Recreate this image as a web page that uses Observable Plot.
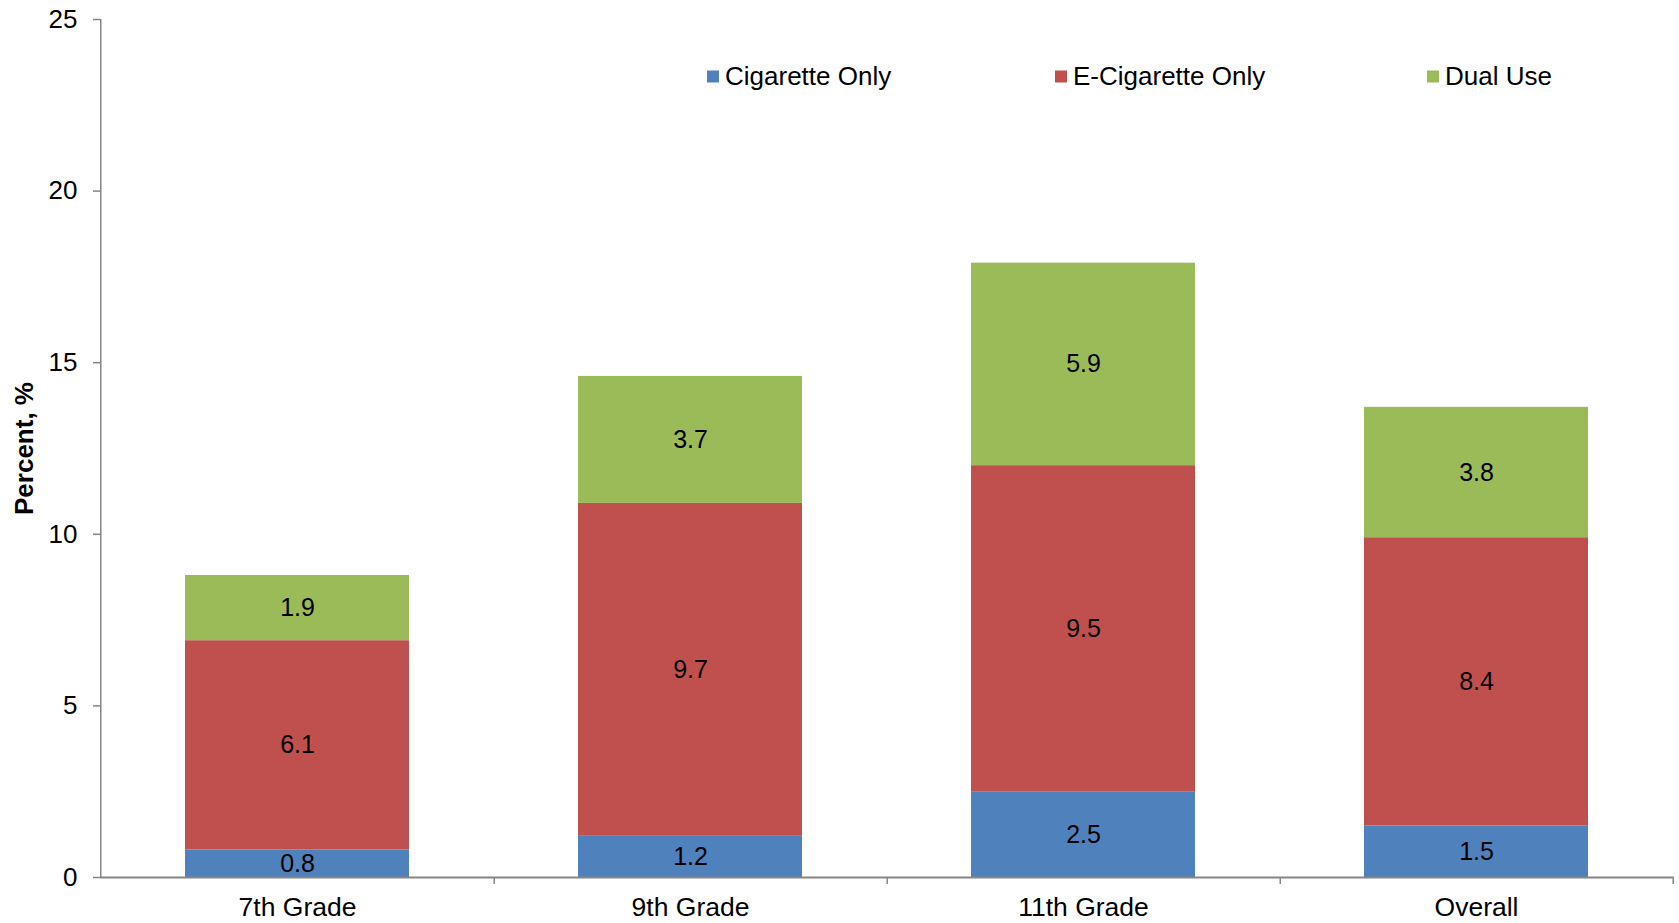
<!DOCTYPE html>
<html>
<head>
<meta charset="utf-8">
<script src="https://cdn.jsdelivr.net/npm/d3@7"></script>
<script src="https://cdn.jsdelivr.net/npm/@observablehq/plot@0.6"></script>
<style>
  html, body { margin: 0; padding: 0; background: #fff; }
  #chart { position: relative; width: 1679px; height: 923px; font-family: "Liberation Sans", Arial, sans-serif; }
  #chart svg { display: block; }
  g[aria-label="y-axis label"] text { font-weight: bold; }
  .legend-item { position: absolute; display: flex; align-items: center; font-size: 26px; color: #000; white-space: nowrap; transform: translateY(-50%); }
  .legend-swatch { width: 12px; height: 12px; margin-right: 6px; }
</style>
</head>
<body>
<div id="chart"></div>
<script>
// ---- data ----
const grades = ["7th Grade", "9th Grade", "11th Grade", "Overall"];
const seriesNames = ["Cigarette Only", "E-Cigarette Only", "Dual Use"];
const seriesColors = ["#4F81BD", "#C0504D", "#9BBB59"];
const cigaretteOnly = [0.8, 1.2, 2.5, 1.5];
const eCigaretteOnly = [6.1, 9.7, 9.5, 8.4];
const dualUse = [1.9, 3.7, 5.9, 3.8];
const yTicks = [0, 5, 10, 15, 20, 25];

const seriesValues = [cigaretteOnly, eCigaretteOnly, dualUse];
const rows = [];
grades.forEach((g, i) => {
  seriesNames.forEach((s, j) => rows.push({grade: g, series: s, value: seriesValues[j][i]}));
});

// ---- layout ----
const W = 1679, H = 923;
const mL = 100, mR = 5, mT = 19, mB = 46;
const step = (W - mL - mR) / grades.length;
const axisGray = "#868686";
const font = "'Liberation Sans', Arial, sans-serif";

const plot = Plot.plot({
  width: W, height: H,
  marginLeft: mL, marginRight: mR, marginTop: mT, marginBottom: mB,
  style: {fontFamily: font, fontSize: "26px", color: "#000", background: "#fff"},
  x: {domain: grades, paddingInner: 0.43, paddingOuter: 0.215, label: null},
  y: {domain: [0, 25], label: null},
  color: {domain: seriesNames, range: seriesColors},
  marks: [
    Plot.barY(rows, Plot.stackY({x: "grade", y: "value", z: "series", fill: "series", order: null})),
    Plot.text(rows, Plot.stackY({x: "grade", y: "value", z: "series", order: null,
      text: d => d.value.toFixed(1), fontSize: 25, fill: "#000"})),
    // y axis
    Plot.axisY({ticks: yTicks, tickSize: 7, tickPadding: 16, stroke: axisGray, strokeWidth: 1.5,
      fontSize: 26, fill: "#000", label: "Percent, %", labelArrow: "none", labelAnchor: "center", labelOffset: 86}),
    // x axis: tick marks at band boundaries
    Plot.axisX({tickSize: 7, dx: step / 2, stroke: axisGray, strokeWidth: 1.5, tickFormat: () => "", label: null}),
    // x axis labels
    Plot.axisX({tickSize: 0, tickPadding: 20, fontSize: 26.5, fill: "#000", label: null}),
    // axis lines
    Plot.ruleX([grades[0]], {x: d => d, dx: -step / 2, y1: 0, y2: 25, stroke: axisGray, strokeWidth: 1.5}),
    Plot.ruleY([0], {stroke: axisGray, strokeWidth: 2})
  ]
});

const chart = document.getElementById("chart");
chart.appendChild(plot);

// legend overlay
const legendLeft = [707, 1055, 1427];
const legendTop = 76;
seriesNames.forEach((s, i) => {
  const item = document.createElement("div");
  item.className = "legend-item";
  item.style.left = legendLeft[i] + "px";
  item.style.top = legendTop + "px";
  const sw = document.createElement("span");
  sw.className = "legend-swatch";
  sw.style.background = seriesColors[i];
  const t = document.createElement("span");
  t.textContent = s;
  item.appendChild(sw);
  item.appendChild(t);
  chart.appendChild(item);
});
</script>
</body>
</html>
